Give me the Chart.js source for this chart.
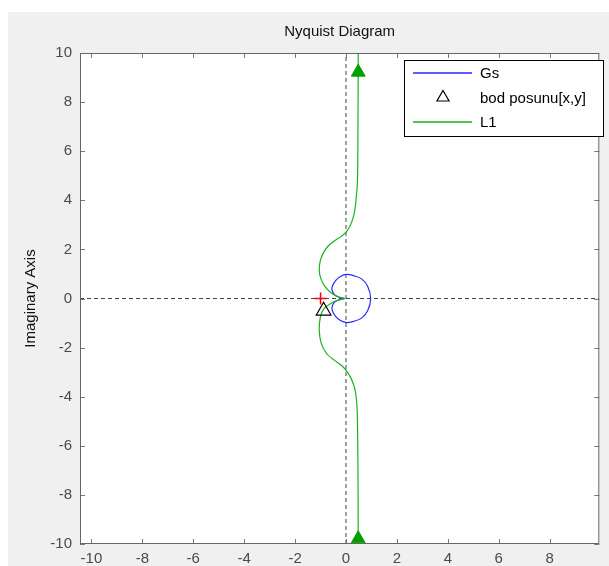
<!DOCTYPE html>
<html><head><meta charset="utf-8">
<script src="https://cdn.jsdelivr.net/npm/chart.js@4/dist/chart.umd.min.js"></script>
<style>html,body{margin:0;padding:0;background:#fff;overflow:hidden}#wrap{width:609px;height:566px;position:relative}</style>
</head><body><div id="wrap"><canvas id="c" width="609" height="566"></canvas></div>
<script>
// ---- data ----
const titleText = "Nyquist Diagram";
const yAxisLabel = "Imaginary Axis";
const xTicks = [-10, -8, -6, -4, -2, 0, 2, 4, 6, 8];
const yTicks = [-10, -8, -6, -4, -2, 0, 2, 4, 6, 8, 10];
const xRange = [-10.45, 9.95];
const yRange = [-10, 10];

// Gs (blue loop)
const gsX = [-0.05, -0.25, -0.45, -0.55, -0.53, -0.40, -0.22, 0.02, 0.30, 0.61, 0.85, 0.97, 0.85, 0.61, 0.30, 0.02, -0.22, -0.40, -0.53, -0.55, -0.45, -0.25, -0.05];
const gsY = [0.00, 0.05, 0.15, 0.35, 0.52, 0.74, 0.90, 0.98, 0.93, 0.80, 0.50, 0.00, -0.50, -0.80, -0.93, -0.98, -0.90, -0.74, -0.52, -0.35, -0.15, -0.05, 0.00];

// L1 (green curve)
const l1X = [0.48, 0.47, 0.45, 0.40, 0.33, 0.20, 0.02, -0.20, -0.45, -0.69, -0.88, -1.01, -1.05, -0.98, -0.80, -0.55, -0.25, -0.08, -0.30, -0.60, -0.88, -1.01, -1.05, -0.98, -0.78, -0.48, -0.15, 0.09, 0.28, 0.38, 0.44, 0.47, 0.48];
const l1Y = [10.0, 7.0, 4.8, 4.1, 3.5, 3.05, 2.72, 2.52, 2.35, 2.15, 1.88, 1.54, 1.13, 0.79, 0.45, 0.20, 0.04, 0.00, -0.06, -0.20, -0.43, -0.77, -1.30, -1.80, -2.22, -2.50, -2.75, -3.05, -3.45, -3.85, -4.60, -7.0, -10.0];
const l1ArrowX = [0.48, 0.48];
const l1ArrowY = [9.22, -9.79];

// bod posunu[x,y]
const shiftX = [-0.88];
const shiftY = [-0.50];
// critical point (-1, 0)
const critX = [-1];
const critY = [0];

// zero lines
const zeroVX = [0, 0], zeroVY = [-10, 10];
const zeroHX = [-10.45, 9.95], zeroHY = [0, 0];

const pts = (xs, ys) => xs.map((x, i) => ({x, y: ys[i]}));

const FONT = "'Liberation Sans', Arial, Helvetica, sans-serif";
Chart.defaults.font.family = FONT;
Chart.defaults.font.size = 15;
Chart.defaults.animation = false;

const GREEN = '#19b319', BLUE = '#2828ff';

const frame = {
  id: 'frame',
  beforeDraw(chart) {
    const {ctx, chartArea: a} = chart;
    ctx.save();
    ctx.fillStyle = '#ffffff';
    ctx.fillRect(0, 0, chart.width, chart.height);
    ctx.fillStyle = '#f0f0f0';
    ctx.fillRect(8, 12, chart.width - 8, chart.height - 12);
    ctx.fillStyle = '#fefefe';
    ctx.fillRect(a.left, a.top, a.right - a.left, a.bottom - a.top);
    // title
    ctx.fillStyle = '#111';
    ctx.font = "15px " + FONT;
    ctx.textAlign = 'center';
    ctx.textBaseline = 'middle';
    ctx.fillText(titleText, (a.left + a.right) / 2, 32);
    // y label
    ctx.translate(31, (a.top + a.bottom) / 2);
    ctx.rotate(-Math.PI / 2);
    ctx.fillText(yAxisLabel, 0, 0);
    ctx.restore();
  },
  afterDatasetsDraw(chart) {
    const {ctx, chartArea: a, scales} = chart;
    ctx.save();
    ctx.strokeStyle = '#777';
    ctx.lineWidth = 1;
    ctx.beginPath();
    xTicks.forEach(v => {
      const p = Math.round(scales.x.getPixelForValue(v)) + 0.5;
      ctx.moveTo(p, a.bottom); ctx.lineTo(p, a.bottom - 5);
      ctx.moveTo(p, a.top); ctx.lineTo(p, a.top + 5);
    });
    yTicks.forEach(v => {
      const p = Math.round(scales.y.getPixelForValue(v)) + 0.5;
      ctx.moveTo(a.left, p); ctx.lineTo(a.left + 5, p);
      ctx.moveTo(a.right, p); ctx.lineTo(a.right - 5, p);
    });
    ctx.stroke();
    ctx.strokeStyle = '#666';
    ctx.strokeRect(a.left + 0.5, a.top + 0.5, a.right - a.left - 1, a.bottom - a.top - 1);

    // legend
    const lx = 404, ly = 60, lw = 199, lh = 76;
    ctx.fillStyle = '#ffffff';
    ctx.fillRect(lx, ly, lw, lh);
    ctx.strokeStyle = '#000';
    ctx.lineWidth = 1;
    ctx.strokeRect(lx + 0.5, ly + 0.5, lw, lh);
    const items = chart.data.datasets.filter(d => d.legendRow !== undefined);
    items.forEach(d => {
      const yy = ly + 13 + d.legendRow * 24.5;
      if (d.showLine) {
        ctx.strokeStyle = d.borderColor; ctx.lineWidth = 1.5;
        ctx.beginPath(); ctx.moveTo(413, yy); ctx.lineTo(472, yy); ctx.stroke();
      } else {
        ctx.strokeStyle = d.pointBorderColor; ctx.lineWidth = 1.2;
        ctx.fillStyle = 'rgba(0,0,0,0)';
        Chart.helpers.drawPoint(ctx, {pointStyle: d.pointStyle, radius: 7, borderWidth: 1.2}, 443, yy);
      }
      ctx.fillStyle = '#000';
      ctx.font = "15px " + FONT;
      ctx.textAlign = 'left';
      ctx.textBaseline = 'middle';
      ctx.fillText(d.label, 480, yy + 1);
    });
    ctx.restore();
  }
};

new Chart(document.getElementById('c'), {
  type: 'scatter',
  data: {
    datasets: [
      {label: 'zeroV', data: pts(zeroVX, zeroVY), showLine: true, borderColor: '#444', borderWidth: 1, borderDash: [4, 3], pointRadius: 0, order: 10},
      {label: 'zeroH', data: pts(zeroHX, zeroHY), showLine: true, borderColor: '#444', borderWidth: 1, borderDash: [4, 3], pointRadius: 0, order: 10},
      {label: 'Gs', legendRow: 0, data: pts(gsX, gsY), showLine: true, borderColor: BLUE, borderWidth: 1.2, pointRadius: 0, tension: 0.35, order: 5},
      {label: 'bod posunu[x,y]', legendRow: 1, data: pts(shiftX, shiftY), showLine: false, pointStyle: 'triangle', pointRadius: 8.5, pointBorderColor: '#000', pointBackgroundColor: 'rgba(255,255,255,0)', pointBorderWidth: 1.2, order: 1},
      {label: 'L1', legendRow: 2, data: pts(l1X, l1Y), showLine: true, borderColor: GREEN, borderWidth: 1.2, pointRadius: 0, tension: 0.3, order: 4},
      {label: 'L1 arrows', data: pts(l1ArrowX, l1ArrowY), showLine: false, pointStyle: 'triangle', pointRadius: 8, pointBorderColor: '#00a000', pointBackgroundColor: '#00a000', pointBorderWidth: 1, order: 2},
      {label: 'crit', data: pts(critX, critY), showLine: false, pointStyle: 'cross', pointRadius: 6, pointBorderColor: '#ff0000', pointBorderWidth: 1.5, order: 1}
    ]
  },
  options: {
    responsive: false,
    maintainAspectRatio: false,
    animation: false,
    layout: {padding: {top: 53, right: 5, bottom: 0, left: 0}},
    plugins: {legend: {display: false}, title: {display: false}, tooltip: {enabled: false}},
    scales: {
      x: {
        type: 'linear', min: xRange[0], max: xRange[1],
        grid: {display: false, drawTicks: false}, border: {display: false},
        ticks: {color: '#4a4a4a', padding: 6, font: {size: 15}},
        afterBuildTicks: s => { s.ticks = xTicks.map(v => ({value: v})); },
        afterFit: s => { s.height = 22; }
      },
      y: {
        type: 'linear', min: yRange[0], max: yRange[1],
        grid: {display: false, drawTicks: false}, border: {display: false},
        ticks: {color: '#4a4a4a', padding: 8, font: {size: 15}},
        afterBuildTicks: s => { s.ticks = yTicks.map(v => ({value: v})); },
        afterFit: s => { s.width = 80; }
      }
    }
  },
  plugins: [frame]
});
</script>
</body></html>
